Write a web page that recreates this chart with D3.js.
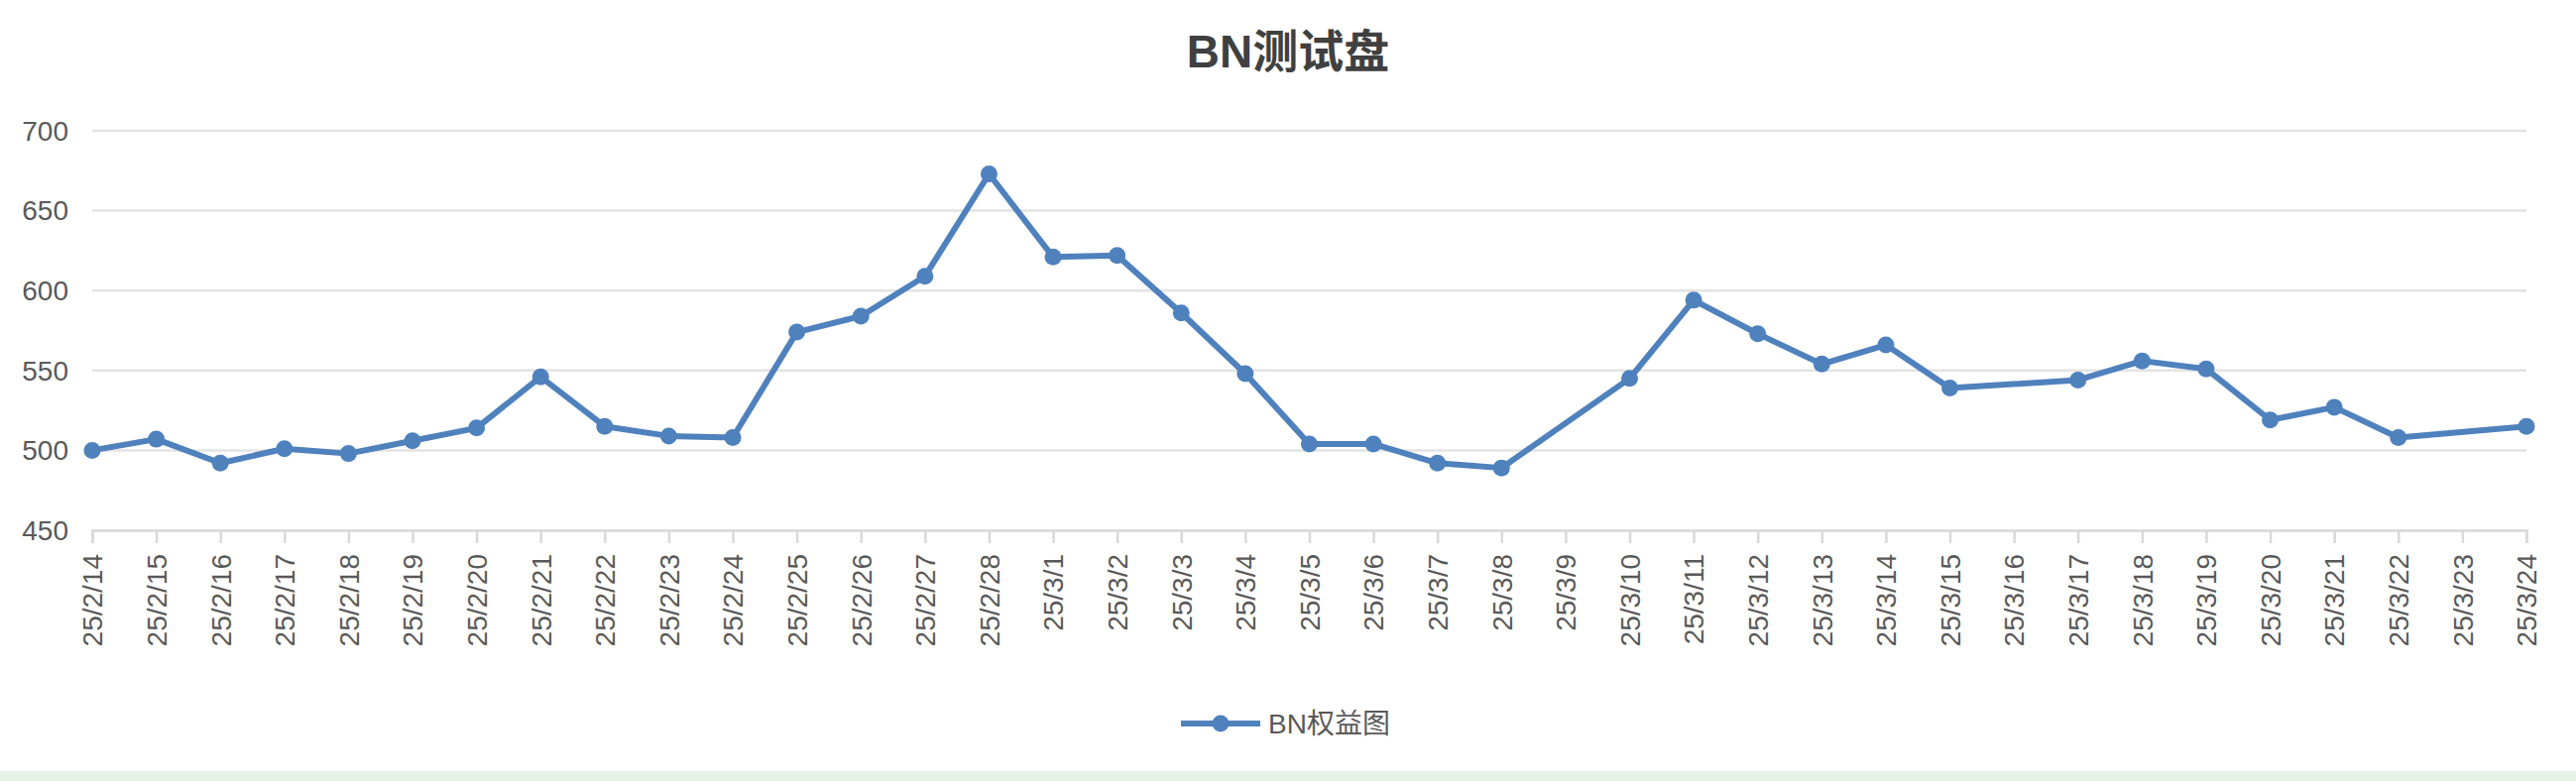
<!DOCTYPE html>
<html><head><meta charset="utf-8">
<script src="https://cdn.jsdelivr.net/npm/d3@7"></script>
<style>
body{margin:0;background:#fff;}
svg{display:block;font-family:"Liberation Sans","Noto Sans CJK SC",sans-serif;}
</style></head>
<body><svg id="chart" width="2598" height="788"></svg>
<script>
// dates on the axis (every day), values where recorded
const DATES = ['25/2/14','25/2/15','25/2/16','25/2/17','25/2/18','25/2/19','25/2/20','25/2/21','25/2/22','25/2/23',
  '25/2/24','25/2/25','25/2/26','25/2/27','25/2/28','25/3/1','25/3/2','25/3/3','25/3/4','25/3/5','25/3/6','25/3/7',
  '25/3/8','25/3/9','25/3/10','25/3/11','25/3/12','25/3/13','25/3/14','25/3/15','25/3/16','25/3/17','25/3/18',
  '25/3/19','25/3/20','25/3/21','25/3/22','25/3/23','25/3/24'];
const VALUES = [500,507,492,501,498,506,514,546,515,509,508,574,584,609,673,621,622,586,548,504,504,492,
  489,null,545,594,573,554,566,539,null,544,556,551,519,527,508,null,515];
const Y_TICKS = [450,500,550,600,650,700];
const TITLE = 'BN测试盘';
const SERIES = 'BN权益图';
const COLOR = '#4f81bd';

const svg = d3.select('#chart');
const m = {l:93, r:50, t:132, b:253};
const W = 2598, H = 788;

const x = d3.scalePoint().domain(DATES).range([m.l, W - m.r]);
const y = d3.scaleLinear().domain([450,700]).range([H - m.b, m.t]);

svg.append('rect').attr('x',0).attr('y',H-10).attr('width',W).attr('height',10).attr('fill','#e6f2e6');

svg.append('text').attr('x', W/2).attr('y', 68).attr('text-anchor','middle')
  .attr('font-size','46px').attr('font-weight','700').attr('fill','#404040').text(TITLE);

// grid
svg.append('g').selectAll('line').data(Y_TICKS.slice(1)).join('line')
  .attr('x1', m.l).attr('x2', W - m.r).attr('y1', d => y(d)).attr('y2', d => y(d))
  .attr('stroke','#e3e3e3').attr('stroke-width',2.5);

// y labels
svg.append('g').selectAll('text').data(Y_TICKS).join('text')
  .attr('x', m.l - 24).attr('y', d => y(d)).attr('dy','0.35em').attr('text-anchor','end')
  .attr('font-size','28px').attr('fill','#595959').text(d => d);

// x axis
const xAxis = svg.append('g').attr('transform',`translate(0,${y(450)})`)
  .call(d3.axisBottom(x).tickSize(13).tickPadding(10));
xAxis.select('.domain').attr('stroke','#d9d9d9').attr('stroke-width',2.5);
xAxis.selectAll('.tick line').attr('stroke','#d9d9d9').attr('stroke-width',2.5);
xAxis.selectAll('.tick text')
  .attr('font-size','28px').attr('font-family','"Liberation Sans",sans-serif').attr('fill','#595959')
  .attr('transform','rotate(-90)').attr('text-anchor','end')
  .attr('x', -24).attr('y', 0).attr('dy','0.35em');

const pts = DATES.map((d,i) => ({d, v: VALUES[i]})).filter(p => p.v != null);

svg.append('path').datum(pts)
  .attr('d', d3.line().x(p => x(p.d)).y(p => y(p.v)))
  .attr('fill','none').attr('stroke',COLOR).attr('stroke-width',6).attr('stroke-linejoin','round');

svg.append('g').selectAll('circle').data(pts).join('circle')
  .attr('cx', p => x(p.d)).attr('cy', p => y(p.v)).attr('r',8.5).attr('fill',COLOR);

// legend
const lg = svg.append('g').attr('transform',`translate(${W/2 - 108},730)`);
lg.append('line').attr('x1',0).attr('x2',80).attr('stroke',COLOR).attr('stroke-width',6);
lg.append('circle').attr('cx',40).attr('r',8.5).attr('fill',COLOR);
lg.append('text').attr('x',88).attr('dy','0.35em').attr('font-size','28px').attr('fill','#595959').text(SERIES);
</script></body></html>
